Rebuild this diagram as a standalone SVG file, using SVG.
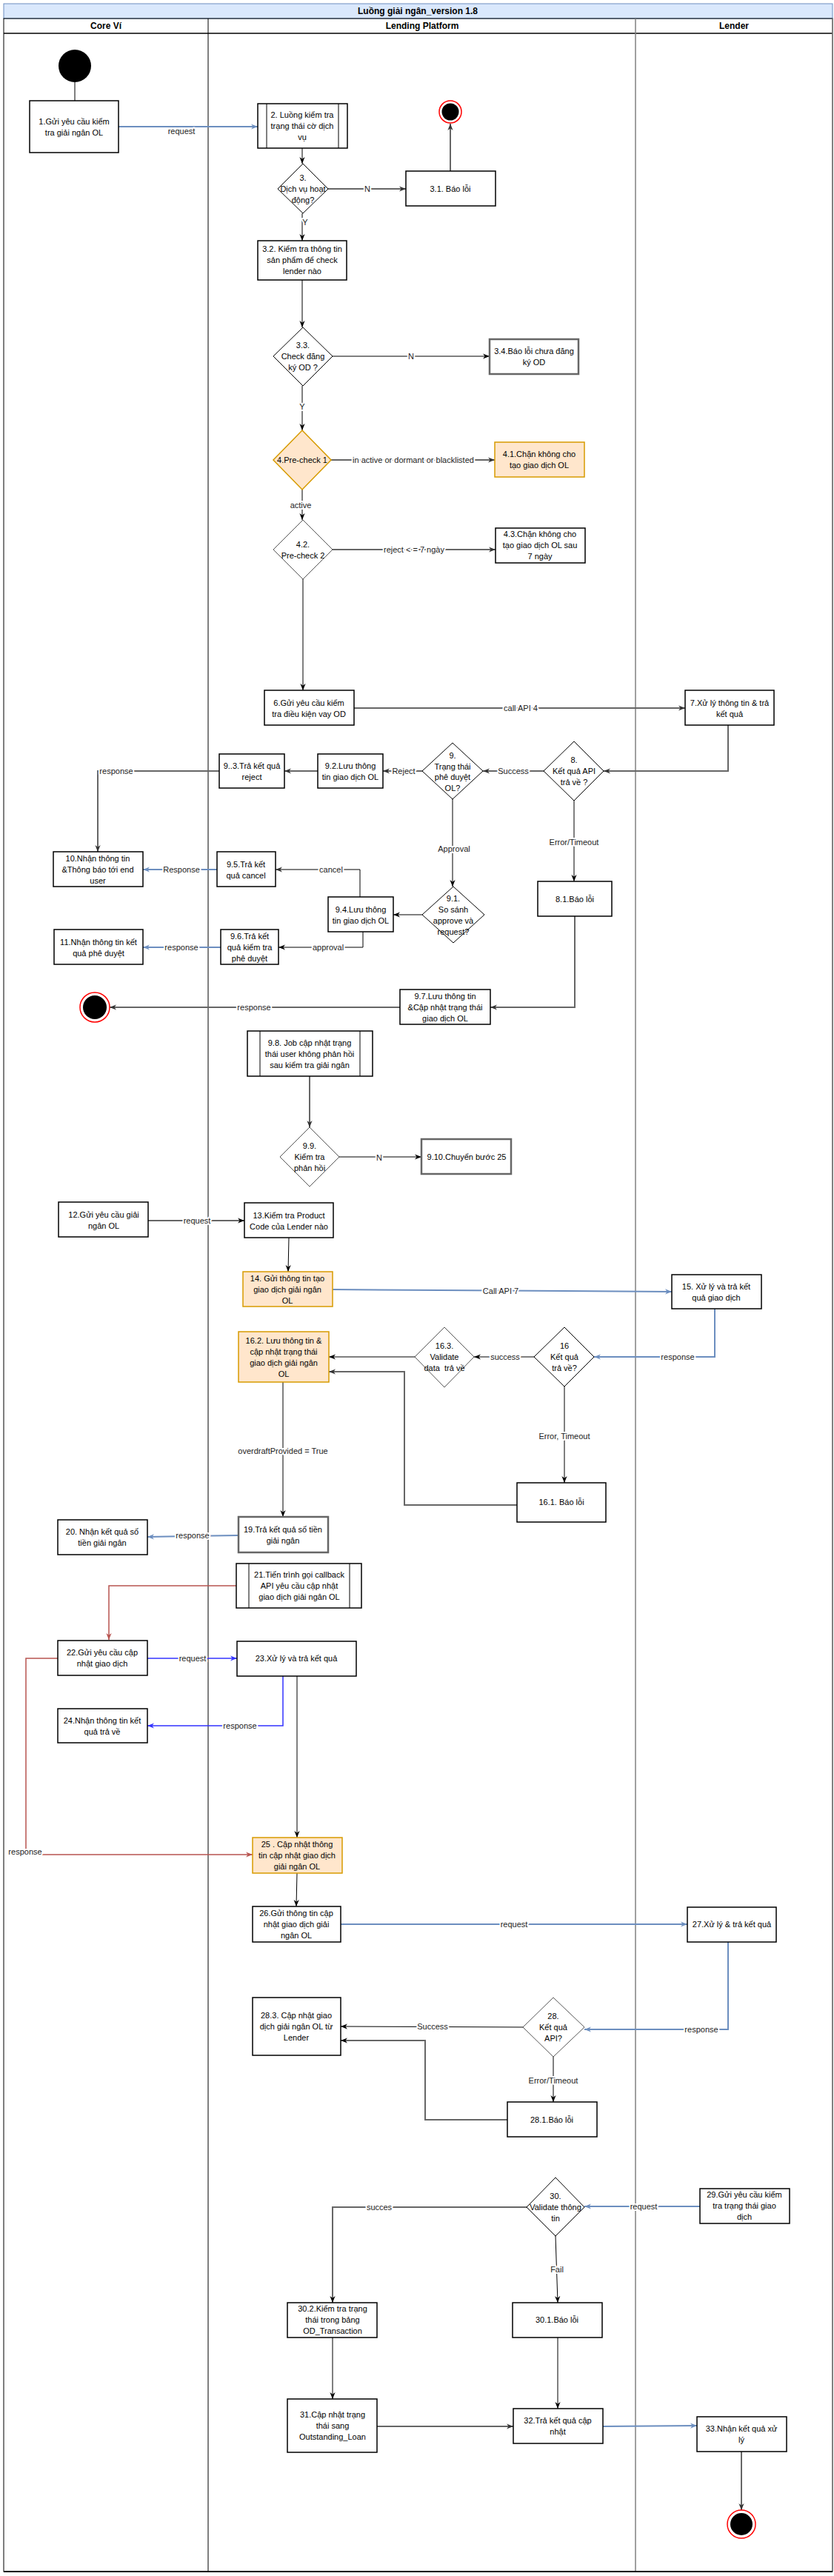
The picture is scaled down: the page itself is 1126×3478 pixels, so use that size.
<svg xmlns="http://www.w3.org/2000/svg" width="1126" height="3478" viewBox="0 0 1126 3478">
<style>
text{font-family:"Liberation Sans",Arial,sans-serif;font-size:11px;fill:#000;text-anchor:middle}
.hd{font-size:12px;font-weight:bold}
.b{fill:#fff;stroke:#000;stroke-width:1.5}
.bg{fill:#fff;stroke:#666;stroke-width:2.5}
.o{fill:#ffe6cc;stroke:#d79b00;stroke-width:1.5}
.d{fill:#fff;stroke:#000;stroke-width:1}
.dg{fill:#fff;stroke:#555;stroke-width:1}
.in{stroke:#000;stroke-width:1}
.e{fill:none;stroke:#000;stroke-width:1}
.eg{fill:none;stroke:#666;stroke-width:2}
.eb{fill:none;stroke:#6c8ebf;stroke-width:2}
.ebb{fill:none;stroke:#3333ff;stroke-width:1.5}
.er{fill:none;stroke:#b85450;stroke-width:1.5}
.l{fill:#222;stroke:#fff;stroke-width:4;paint-order:stroke;stroke-linejoin:round}
</style>
<defs>
<marker id="ak" viewBox="0 0 10 8" refX="10" refY="4" markerWidth="9" markerHeight="8" markerUnits="userSpaceOnUse" orient="auto"><path d="M0,0 L10,4 L0,8 L3,4 z" fill="#000"/></marker>
<marker id="ag" viewBox="0 0 10 8" refX="10" refY="4" markerWidth="9" markerHeight="8" markerUnits="userSpaceOnUse" orient="auto"><path d="M0,0 L10,4 L0,8 L3,4 z" fill="#333"/></marker>
<marker id="ab" viewBox="0 0 10 8" refX="10" refY="4" markerWidth="9" markerHeight="8" markerUnits="userSpaceOnUse" orient="auto"><path d="M0,0 L10,4 L0,8 L3,4 z" fill="#6c8ebf"/></marker>
<marker id="abb" viewBox="0 0 10 8" refX="10" refY="4" markerWidth="9" markerHeight="8" markerUnits="userSpaceOnUse" orient="auto"><path d="M0,0 L10,4 L0,8 L3,4 z" fill="#3333ff"/></marker>
<marker id="ar" viewBox="0 0 10 8" refX="10" refY="4" markerWidth="9" markerHeight="8" markerUnits="userSpaceOnUse" orient="auto"><path d="M0,0 L10,4 L0,8 L3,4 z" fill="#b85450"/></marker>
</defs>
<rect width="1126" height="3478" fill="#fff"/>
<g id="pool">
<rect x="5" y="5" width="1119" height="20" fill="#dae8fc" stroke="#6c8ebf" stroke-width="1"/>
<text class="hd" x="564" y="19">Luồng giải ngân_version 1.8</text>
<rect x="5" y="25" width="1119" height="3447" fill="none" stroke="#000" stroke-width="1"/>
<line x1="5" y1="45" x2="1124" y2="45" stroke="#000" stroke-width="1.5"/>
<line x1="281" y1="25" x2="281" y2="3472" stroke="#000" stroke-width="1"/>
<line x1="858" y1="25" x2="858" y2="3472" stroke="#808080" stroke-width="1.5"/>
<line x1="1124" y1="25" x2="1124" y2="3472" stroke="#808080" stroke-width="1.5"/>
<line x1="5" y1="3472" x2="1124" y2="3472" stroke="#000" stroke-width="2"/>
<text class="hd" x="143" y="39">Core Ví</text>
<text class="hd" x="570" y="39">Lending Platform</text>
<text class="hd" x="991" y="39">Lender</text>
</g>
<g id="connectors">
<path class="e" d="M101,111 V136"/>
<path class="eb" d="M160,171 H348" marker-end="url(#ab)"/><text class="l" x="245" y="181">request</text>
<path class="e" d="M408,200 V221" marker-end="url(#ak)"/>
<path class="eg" d="M443,255 H548" marker-end="url(#ag)"/><text class="l" x="496" y="259">N</text>
<path class="eg" d="M608,231 V167" stroke-width="1.5" marker-end="url(#ag)"/>
<path class="e" d="M408,288 V325" marker-end="url(#ak)"/><text class="l" x="412" y="304">Y</text>
<path class="e" d="M408,378 V442" marker-end="url(#ak)"/>
<path class="e" d="M449,481 H661" marker-end="url(#ak)"/><text class="l" x="555" y="485">N</text>
<path class="e" d="M408,521 V581" marker-end="url(#ak)"/><text class="l" x="408" y="553">Y</text>
<path class="eg" d="M447,621 H668" stroke="#444" marker-end="url(#ag)"/><text class="l" x="558" y="625">in active or dormant or blacklisted</text>
<path class="e" d="M408,661 V702" marker-end="url(#ak)"/><text class="l" x="406" y="686">active</text>
<path class="eg" d="M449,742 H669" marker-end="url(#ag)"/><text class="l" x="559" y="746">reject &lt; = 7 ngày</text>
<path class="e" d="M409,782 V932" stroke="#555" marker-end="url(#ak)"/>
<path class="eg" d="M478,956 H925" marker-end="url(#ag)"/><text class="l" x="703" y="960">call API 4</text>
<path class="eg" d="M983,979 V1041 H815" marker-end="url(#ag)"/>
<path class="eg" d="M734,1041 H652" marker-end="url(#ag)"/><text class="l" x="693" y="1045">Success</text>
<path class="eg" d="M570,1041 H517" marker-end="url(#ag)"/><text class="l" x="545" y="1045">Reject</text>
<path class="eg" d="M429,1041 H384" marker-end="url(#ag)"/>
<path class="eg" d="M296,1041 H132 V1150" stroke-width="1.5" marker-end="url(#ag)"/><text class="l" x="157" y="1045">response</text>
<path class="e" d="M611,1079 V1197" marker-end="url(#ak)"/><text class="l" x="613" y="1150">Approval</text>
<path class="e" d="M775,1081 V1190" marker-end="url(#ak)"/><text class="l" x="775" y="1141">Error/Timeout</text>
<path class="e" d="M570,1235 H531" stroke-width="1.5" marker-end="url(#ak)"/>
<path class="e" d="M486,1211 V1174 H372" stroke="#333" marker-end="url(#ag)"/><text class="l" x="447" y="1178">cancel</text>
<path class="e" d="M490,1258 V1279 H376" stroke-width="1.5" marker-end="url(#ak)"/><text class="l" x="443" y="1283">approval</text>
<path class="eb" d="M293,1174 H193" marker-end="url(#ab)"/><text class="l" x="245" y="1178">Response</text>
<path class="eb" d="M298,1279 H193" marker-end="url(#ab)"/><text class="l" x="245" y="1283">response</text>
<path class="eg" d="M776,1237 V1360 H662" stroke-width="1.5" marker-end="url(#ag)"/>
<path class="eg" d="M540,1360 H148" marker-end="url(#ag)"/><text class="l" x="343" y="1364">response</text>
<path class="eg" d="M418,1453 V1522" stroke-width="1.5" marker-end="url(#ag)"/>
<path class="e" d="M458,1562 H569" stroke-width="1.5" marker-end="url(#ak)"/><text class="l" x="512" y="1567">N</text>
<path class="eg" d="M200,1648 H330" marker-end="url(#ak)"/><text class="l" x="266" y="1652">request</text>
<path class="e" d="M390,1671 L389,1717" marker-end="url(#ak)"/>
<path class="eb" d="M449,1741 L907,1744" marker-end="url(#ab)"/><text class="l" x="676" y="1747">Call API 7</text>
<path class="eb" d="M965,1767 V1832 H802" stroke-width="1.5" marker-end="url(#ab)"/><text class="l" x="915" y="1836">response</text>
<path class="e" d="M721,1832 H640" stroke-width="1.5" marker-end="url(#ak)"/><text class="l" x="682" y="1836">success</text>
<path class="e" d="M560,1832 H444" stroke-width="1.5" marker-end="url(#ak)"/>
<path class="e" d="M762,1872 V2002" stroke-width="1.5" marker-end="url(#ak)"/><text class="l" x="762" y="1943">Error, Timeout</text>
<path class="eg" d="M698,2032 H546 V1852 H444" marker-end="url(#ag)"/>
<path class="e" d="M382,1866 V2048" stroke="#333" marker-end="url(#ak)"/><text class="l" x="382" y="1963">overdraftProvided = True</text>
<path class="eb" d="M322,2073 L199,2075" stroke-width="1.5" marker-end="url(#ab)"/><text class="l" x="260" y="2077">response</text>
<path class="er" d="M319,2141 H147 V2214" marker-end="url(#ar)"/>
<path class="ebb" d="M199,2239 H320" stroke-width="2" marker-end="url(#abb)"/><text class="l" x="260" y="2243">request</text>
<path class="ebb" d="M382,2263 V2330 H199" marker-end="url(#abb)"/><text class="l" x="324" y="2334">response</text>
<path class="e" d="M401,2263 V2481" marker-end="url(#ak)"/>
<path class="er" d="M78,2239 H35 V2504 H341" marker-end="url(#ar)"/><text class="l" x="34" y="2504">response</text>
<path class="e" d="M401,2529 L400,2574" stroke="#333" marker-end="url(#ak)"/>
<path class="eb" d="M460,2598 H928" marker-end="url(#ab)"/><text class="l" x="694" y="2602">request</text>
<path class="eb" d="M983,2622 V2740 H789" marker-end="url(#ab)"/><text class="l" x="947" y="2744">response</text>
<path class="e" d="M706,2737 L460,2736" stroke-width="1.5" marker-end="url(#ak)"/><text class="l" x="584" y="2740">Success</text>
<path class="e" d="M747,2777 V2838" marker-end="url(#ak)"/><text class="l" x="747" y="2813">Error/Timeout</text>
<path class="eg" d="M685,2862 H574 V2755 H460" marker-end="url(#ak)"/>
<path class="eb" d="M945,2979 H789" marker-end="url(#ab)"/><text class="l" x="869" y="2983">request</text>
<path class="eg" d="M711,2980 H449 V3109" marker-end="url(#ak)"/><text class="l" x="512" y="2984">succes</text>
<path class="e" d="M750,3019 L753,3109" marker-end="url(#ak)"/><text class="l" x="752" y="3068">Fail</text>
<path class="e" d="M449,3156 V3239" marker-end="url(#ak)"/>
<path class="e" d="M753,3156 V3252" marker-end="url(#ak)"/>
<path class="eg" d="M509,3276 H693" marker-end="url(#ag)"/>
<path class="eb" d="M814,3276 L941,3275" marker-end="url(#ab)"/>
<path class="eg" d="M1001,3310 V3389" stroke-width="1.5" marker-end="url(#ag)"/>
</g>
<g id="start"><circle cx="101" cy="89" r="22" fill="#000"/></g>
<g id="end1"><circle cx="608" cy="151" r="15" fill="#fff" stroke="#f00" stroke-width="1.5"/><circle cx="608" cy="151" r="11.5" fill="#000"/></g>
<g id="end2"><circle cx="128" cy="1360" r="20" fill="#fff" stroke="#f00" stroke-width="1.5"/><circle cx="128" cy="1360" r="16" fill="#000"/></g>
<g id="end3"><circle cx="1001" cy="3408" r="19" fill="#fff" stroke="#f00" stroke-width="1.5"/><circle cx="1001" cy="3408" r="15" fill="#000"/></g>
<g id="n1"><rect class="b" x="40" y="136" width="120" height="70"/><text x="100"><tspan x="100" y="167.5">1.Gửi yêu cầu kiểm</tspan><tspan x="100" y="182.5">tra giải ngân OL</tspan></text></g>
<g id="n2"><rect class="b" x="348" y="140" width="121" height="60"/><line class="in" x1="360" y1="140" x2="360" y2="200"/><line class="in" x1="457" y1="140" x2="457" y2="200"/><text><tspan x="408" y="159">2. Luồng kiểm tra</tspan><tspan x="408" y="174">trạng thái cờ dịch</tspan><tspan x="408" y="189">vụ</tspan></text></g>
<g id="n3"><polygon class="d" points="409,221 443,255 409,288 375,255"/><text><tspan x="409" y="244">3.</tspan><tspan x="409" y="259">Dịch vụ hoạt</tspan><tspan x="409" y="274">động?</tspan></text></g>
<g id="n3_1"><rect class="b" x="548" y="231" width="121" height="47"/><text x="608" y="259">3.1. Báo lỗi</text></g>
<g id="n3_2"><rect class="b" x="348" y="325" width="120" height="53"/><text><tspan x="408" y="340">3.2. Kiểm tra thông tin</tspan><tspan x="408" y="355">sản phẩm để check</tspan><tspan x="408" y="370">lender nào</tspan></text></g>
<g id="n3_3"><polygon class="d" points="409,442 449,481 409,521 369,481"/><text><tspan x="409" y="470">3.3.</tspan><tspan x="409" y="485">Check đăng</tspan><tspan x="409" y="500">ký OD ?</tspan></text></g>
<g id="n3_4"><rect class="bg" x="661" y="458" width="120" height="47"/><text><tspan x="721" y="477.5">3.4.Báo lỗi chưa đăng</tspan><tspan x="721" y="492.5">ký OD</tspan></text></g>
<g id="n4"><polygon class="o" points="408,581 447,621 408,661 369,621" stroke-width="1"/><text x="408" y="625">4.Pre-check 1</text></g>
<g id="n4_1"><rect class="o" x="668" y="597" width="121" height="47"/><text><tspan x="728" y="616.5">4.1.Chặn không cho</tspan><tspan x="728" y="631.5">tạo giao dịch OL</tspan></text></g>
<g id="n4_2"><polygon class="dg" points="409,702 449,742 409,782 369,742"/><text><tspan x="409" y="738.5">4.2.</tspan><tspan x="409" y="753.5">Pre-check 2</tspan></text></g>
<g id="n4_3"><rect class="b" x="669" y="713" width="121" height="47"/><text><tspan x="729" y="725">4.3.Chặn không cho</tspan><tspan x="729" y="740">tạo giao dịch OL sau</tspan><tspan x="729" y="755">7 ngày</tspan></text></g>
<g id="n6"><rect class="b" x="357" y="932" width="121" height="47"/><text><tspan x="417" y="952.5">6.Gửi yêu cầu kiểm</tspan><tspan x="417" y="967.5">tra điều kiện vay OD</tspan></text></g>
<g id="n7"><rect class="b" x="925" y="932" width="120" height="47"/><text><tspan x="985" y="952.5">7.Xử lý thông tin &amp; trả</tspan><tspan x="985" y="967.5">kết quả</tspan></text></g>
<g id="n8"><polygon class="d" points="775,1001 815,1041 775,1081 734,1041"/><text><tspan x="775" y="1030">8.</tspan><tspan x="775" y="1045">Kết quả API</tspan><tspan x="775" y="1060">trả về ?</tspan></text></g>
<g id="n9"><polygon class="d" points="611,1003 652,1041 611,1079 570,1041"/><text><tspan x="611" y="1024">9.</tspan><tspan x="611" y="1038.5">Trạng thái</tspan><tspan x="611" y="1053">phê duyệt</tspan><tspan x="611" y="1067.5">OL?</tspan></text></g>
<g id="n9_2"><rect class="b" x="429" y="1018" width="88" height="46"/><text><tspan x="473" y="1037.5">9.2.Lưu thông</tspan><tspan x="473" y="1052.5">tin giao dịch OL</tspan></text></g>
<g id="n9_3"><rect class="b" x="296" y="1018" width="88" height="46"/><text><tspan x="340" y="1037.5">9..3.Trả kết quả</tspan><tspan x="340" y="1052.5">reject</tspan></text></g>
<g id="n10"><rect class="b" x="72" y="1150" width="121" height="47"/><text><tspan x="132" y="1163">10.Nhận thông tin</tspan><tspan x="132" y="1178">&amp;Thông báo tới end</tspan><tspan x="132" y="1193">user</tspan></text></g>
<g id="n9_5"><rect class="b" x="293" y="1150" width="79" height="47"/><text><tspan x="332" y="1170.5">9.5.Trả kết</tspan><tspan x="332" y="1185.5">quả cancel</tspan></text></g>
<g id="n9_1"><polygon class="d" points="612,1197 654,1235 612,1273 570,1235"/><text><tspan x="612" y="1216.5">9.1.</tspan><tspan x="612" y="1231.5">So sánh</tspan><tspan x="612" y="1246.5">approve và</tspan><tspan x="612" y="1261.5">request?</tspan></text></g>
<g id="n9_4"><rect class="b" x="443" y="1211" width="88" height="47"/><text><tspan x="487" y="1231.5">9.4.Lưu thông</tspan><tspan x="487" y="1246.5">tin giao dịch OL</tspan></text></g>
<g id="n9_6"><rect class="b" x="298" y="1255" width="78" height="47"/><text><tspan x="337" y="1268">9.6.Trả kết</tspan><tspan x="337" y="1283">quả kiểm tra</tspan><tspan x="337" y="1298">phê duyệt</tspan></text></g>
<g id="n11"><rect class="b" x="73" y="1255" width="120" height="47"/><text><tspan x="133" y="1275.5">11.Nhận thông tin kết</tspan><tspan x="133" y="1290.5">quả phê duyệt</tspan></text></g>
<g id="n8_1"><rect class="b" x="726" y="1190" width="100" height="47"/><text x="776" y="1218">8.1.Báo lỗi</text></g>
<g id="n9_7"><rect class="b" x="540" y="1336" width="122" height="47"/><text><tspan x="601" y="1349">9.7.Lưu thông tin</tspan><tspan x="601" y="1364">&amp;Cập nhật trạng thái</tspan><tspan x="601" y="1379">giao dịch OL</tspan></text></g>
<g id="n9_8"><rect class="b" x="334" y="1392" width="169" height="61"/><line class="in" x1="351" y1="1392" x2="351" y2="1453"/><line class="in" x1="486" y1="1392" x2="486" y2="1453"/><text><tspan x="418" y="1412">9.8. Job cập nhật trạng</tspan><tspan x="418" y="1427">thái user không phản hồi</tspan><tspan x="418" y="1442">sau kiểm tra giải ngân</tspan></text></g>
<g id="n9_9"><polygon class="dg" points="418,1522 458,1562 418,1602 378,1562"/><text><tspan x="418" y="1551">9.9.</tspan><tspan x="418" y="1566">Kiểm tra</tspan><tspan x="418" y="1581">phản hồi</tspan></text></g>
<g id="n9_10"><rect class="bg" x="569" y="1538" width="121" height="47"/><text x="630" y="1566">9.10.Chuyển bước 25</text></g>
<g id="n12"><rect class="b" x="79" y="1623" width="121" height="47"/><text><tspan x="140" y="1643.5">12.Gửi yêu cầu giải</tspan><tspan x="140" y="1658.5">ngân OL</tspan></text></g>
<g id="n13"><rect class="b" x="330" y="1624" width="120" height="47"/><text><tspan x="390" y="1644.5">13.Kiểm tra Product</tspan><tspan x="390" y="1659.5">Code của Lender nào</tspan></text></g>
<g id="n14"><rect class="o" x="328" y="1717" width="121" height="47"/><text><tspan x="388" y="1730">14. Gửi thông tin tạo</tspan><tspan x="388" y="1745">giao dịch giải ngân</tspan><tspan x="388" y="1760">OL</tspan></text></g>
<g id="n15"><rect class="b" x="907" y="1721" width="121" height="46"/><text><tspan x="967" y="1740.5">15. Xử lý và trả kết</tspan><tspan x="967" y="1755.5">quả giao dịch</tspan></text></g>
<g id="n16"><polygon class="d" points="762,1792 802,1832 762,1872 721,1832"/><text><tspan x="762" y="1821">16</tspan><tspan x="762" y="1836">Kết quả</tspan><tspan x="762" y="1851">trả về?</tspan></text></g>
<g id="n16_3"><polygon class="dg" points="600,1792 640,1832 600,1873 560,1832"/><text><tspan x="600" y="1821">16.3.</tspan><tspan x="600" y="1836">Validate</tspan><tspan x="600" y="1851" xml:space="preserve">data  trả về</tspan></text></g>
<g id="n16_2"><rect class="o" x="322" y="1798" width="122" height="68"/><text><tspan x="383" y="1813.5">16.2. Lưu thông tin &amp;</tspan><tspan x="383" y="1828.5">cập nhật trạng thái</tspan><tspan x="383" y="1843.5">giao dịch giải ngân</tspan><tspan x="383" y="1858.5">OL</tspan></text></g>
<g id="n16_1"><rect class="b" x="698" y="2002" width="120" height="53"/><text x="758" y="2032">16.1. Báo lỗi</text></g>
<g id="n19"><rect class="bg" x="322" y="2048" width="121" height="48"/><text><tspan x="382" y="2068.5">19.Trả kết quả số tiền</tspan><tspan x="382" y="2083.5">giải ngân</tspan></text></g>
<g id="n20"><rect class="b" x="78" y="2052" width="121" height="47"/><text><tspan x="138" y="2071.5">20. Nhận kết quả số</tspan><tspan x="138" y="2086.5">tiền giải ngân</tspan></text></g>
<g id="n21"><rect class="b" x="319" y="2111" width="169" height="60"/><line class="in" x1="336" y1="2111" x2="336" y2="2171"/><line class="in" x1="472" y1="2111" x2="472" y2="2171"/><text><tspan x="404" y="2130">21.Tiến trình gọi callback</tspan><tspan x="404" y="2145">API yêu cầu cập nhật</tspan><tspan x="404" y="2160">giao dịch giải ngân OL</tspan></text></g>
<g id="n22"><rect class="b" x="78" y="2215" width="121" height="47"/><text><tspan x="138" y="2234.5">22.Gửi yêu cầu cập</tspan><tspan x="138" y="2249.5">nhật giao dịch</tspan></text></g>
<g id="n23"><rect class="b" x="320" y="2216" width="161" height="47"/><text x="400" y="2243">23.Xử lý và trả kết quả</text></g>
<g id="n24"><rect class="b" x="78" y="2307" width="121" height="46"/><text><tspan x="138" y="2326.5">24.Nhận thông tin kết</tspan><tspan x="138" y="2341.5">quả trả về</tspan></text></g>
<g id="n25"><rect class="o" x="341" y="2481" width="121" height="48"/><text><tspan x="401" y="2494">25 . Cập nhật thông</tspan><tspan x="401" y="2509">tin cập nhật giao dịch</tspan><tspan x="401" y="2524">giải ngân OL</tspan></text></g>
<g id="n26"><rect class="b" x="341" y="2574" width="119" height="48"/><text><tspan x="400" y="2587">26.Gửi thông tin cập</tspan><tspan x="400" y="2602">nhật giao dịch giải</tspan><tspan x="400" y="2617">ngân OL</tspan></text></g>
<g id="n27"><rect class="b" x="928" y="2575" width="120" height="47"/><text x="988" y="2602">27.Xử lý &amp; trả kết quả</text></g>
<g id="n28"><polygon class="dg" points="747,2697 789,2737 747,2777 706,2737"/><text><tspan x="747" y="2726">28.</tspan><tspan x="747" y="2741">Kết quả</tspan><tspan x="747" y="2756">API?</tspan></text></g>
<g id="n28_3"><rect class="b" x="341" y="2697" width="119" height="78"/><text><tspan x="400" y="2725">28.3. Cập nhật giao</tspan><tspan x="400" y="2740">dịch giải ngân OL từ</tspan><tspan x="400" y="2755">Lender</tspan></text></g>
<g id="n28_1"><rect class="b" x="685" y="2838" width="121" height="47"/><text x="745" y="2866">28.1.Báo lỗi</text></g>
<g id="n29"><rect class="b" x="945" y="2955" width="121" height="47"/><text><tspan x="1005" y="2967">29.Gửi yêu cầu kiểm</tspan><tspan x="1005" y="2982">tra trạng thái giao</tspan><tspan x="1005" y="2997">dịch</tspan></text></g>
<g id="n30"><polygon class="d" points="750,2940 789,2980 750,3019 711,2980"/><text><tspan x="750" y="2969">30.</tspan><tspan x="750" y="2984">Validate thông</tspan><tspan x="750" y="2999">tin</tspan></text></g>
<g id="n30_2"><rect class="b" x="388" y="3109" width="121" height="47"/><text><tspan x="449" y="3121">30.2.Kiểm tra trạng</tspan><tspan x="449" y="3136">thái trong bảng</tspan><tspan x="449" y="3151">OD_Transaction</tspan></text></g>
<g id="n30_1"><rect class="b" x="692" y="3109" width="121" height="47"/><text x="752" y="3136">30.1.Báo lỗi</text></g>
<g id="n31"><rect class="b" x="388" y="3239" width="121" height="72"/><text><tspan x="449" y="3264">31.Cập nhật trạng</tspan><tspan x="449" y="3279">thái sang</tspan><tspan x="449" y="3294">Outstanding_Loan</tspan></text></g>
<g id="n32"><rect class="b" x="693" y="3252" width="121" height="47"/><text><tspan x="753" y="3271.5">32.Trả kết quả cập</tspan><tspan x="753" y="3286.5">nhật</tspan></text></g>
<g id="n33"><rect class="b" x="941" y="3263" width="121" height="47"/><text><tspan x="1001" y="3282.5">33.Nhận kết quả xử</tspan><tspan x="1001" y="3297.5">lý</tspan></text></g>
</svg>
